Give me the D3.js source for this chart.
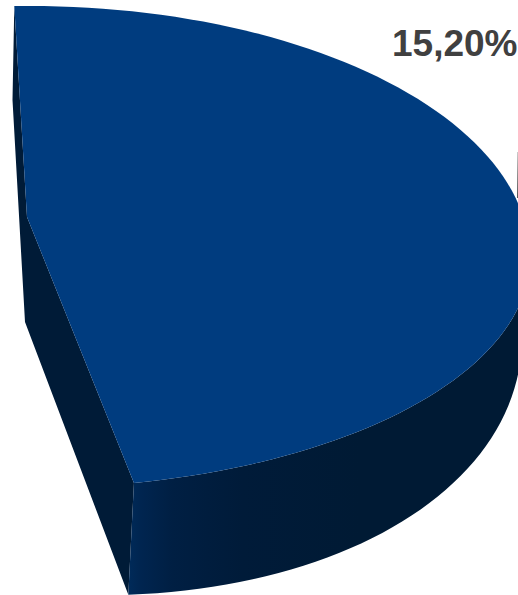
<!DOCTYPE html>
<html>
<head>
<meta charset="utf-8">
<script src="https://cdnjs.cloudflare.com/ajax/libs/d3/7.8.5/d3.min.js"></script>
<style>html,body{margin:0;padding:0;background:#fff;overflow:hidden}svg{display:block}</style>
</head>
<body>
<svg id="c" width="518" height="595"></svg>
<script>
const sliceValues = [15.2];
const sliceLabels = ["15,20%"];

const svg = d3.select("#c");
const defs = svg.append("defs");

// the value is swept along the projected rim of the exploded slice
const sweep = d3.scaleLinear().domain([0, sliceValues[0]]).range([-91.8, 78]);
const rad = d => d * Math.PI / 180;

const topRim = t => {
  const s = Math.sin(rad(t));
  return [30 + 500 * Math.cos(rad(t)), 258 + (s < 0 ? 252 : 230) * s];
};
const bottomRim = t => [25 + 497 * Math.cos(rad(t)), 292 + 300 * Math.sin(rad(t)) + 45 * Math.cos(rad(t))];

const line = d3.line();
const apexTop = [27, 217], apexBottom = [25, 322], backBottom = [12.5, 100];
const samples = d3.range(0, 101).map(i => sweep(sliceValues[0] * i / 100));

const grad = defs.append("linearGradient").attr("id", "rim")
  .attr("gradientUnits", "userSpaceOnUse")
  .attr("x1", 125).attr("x2", 518).attr("y1", 0).attr("y2", 0);
[[0, "#002c5c"], [0.04, "#002550"], [0.12, "#001f43"], [0.3, "#001b39"], [0.6, "#001a34"], [1, "#001a34"]]
  .forEach(([o, c]) => grad.append("stop").attr("offset", o).attr("stop-color", c));

// inner wall facing the viewer (left)
const lastT = sweep(sliceValues[0]), firstT = sweep(0);
svg.append("path").attr("fill", "#001b37")
  .attr("d", line([topRim(firstT), backBottom, apexBottom, bottomRim(lastT), topRim(lastT), apexTop]) + "Z");

// outer curved wall
const wallT = samples.filter(t => t >= -5);
svg.append("path").attr("fill", "url(#rim)")
  .attr("d", line([...wallT.map(topRim), ...wallT.slice().reverse().map(bottomRim)]) + "Z");

// top face
svg.append("path").attr("fill", "#003c7f")
  .attr("d", line([apexTop, ...samples.map(topRim)]) + "Z");

// thin edge of neighbouring slice at the right border
const edge = defs.append("linearGradient").attr("id", "edge").attr("x1", 0).attr("x2", 0).attr("y1", 0).attr("y2", 1);
edge.append("stop").attr("offset", 0).attr("stop-color", "#cccccc");
edge.append("stop").attr("offset", 1).attr("stop-color", "#555555");
svg.append("rect").attr("x", 517).attr("y", 152).attr("width", 1).attr("height", 46).attr("fill", "url(#edge)");

svg.selectAll("text.lbl").data(sliceLabels).join("text")
  .attr("class", "lbl")
  .attr("x", 517.5).attr("y", 56)
  .attr("text-anchor", "end")
  .attr("font-family", "Liberation Sans, Arial, sans-serif")
  .attr("font-weight", "bold")
  .attr("font-size", 37)
  .attr("fill", "#404040")
  .text(d => d);
</script>
</body>
</html>
